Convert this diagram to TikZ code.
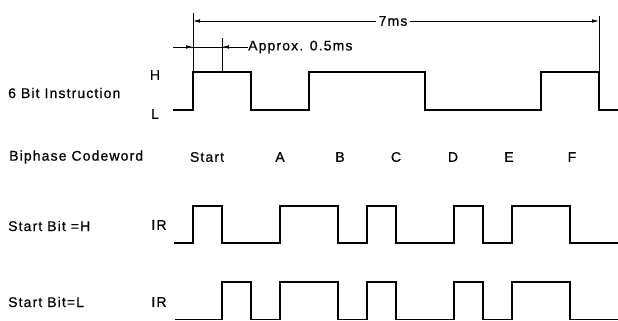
\documentclass[tikz,border=0pt]{standalone}
\usepackage{fontspec}
\setmainfont[LetterSpace=8,FakeBold=0.6]{Liberation Sans}
\usetikzlibrary{arrows.meta}
\begin{document}
\begin{tikzpicture}[x=1pt,y=-1pt,
  wave/.style={line width=1.7pt, line join=miter, line cap=butt},
  dim/.style={line width=0.7pt},
  lbl/.style={font=\fontsize{14}{16}\selectfont, inner sep=0pt},
  tipe/.style={-{Latex[length=7pt,width=3.6pt]}}]
\useasboundingbox (0,0) rectangle (618,321);

% left labels
\node[lbl, anchor=west] (instr) at (8,93) {6 Bit Instruction};
\node[lbl] (hl) at (155,75) {H};
\node[lbl] (ll) at (155,114) {L};
\node[lbl, anchor=west] (bip) at (9,157) {Biphase Codeword};
\node[lbl, anchor=west] (sbh) at (8,226) {Start Bit =H};
\node[lbl, anchor=west] (sbl) at (8,302) {Start Bit=L};
\node[lbl] (ir1) at (159,225) {IR};
\node[lbl] (ir2) at (159,302) {IR};

% bit labels
\node[lbl] (bs) at (207,157) {Start};
\node[lbl] (ba) at (280,157) {A};
\node[lbl] (bb) at (340,157) {B};
\node[lbl] (bc) at (396,157) {C};
\node[lbl] (bd) at (453,157) {D};
\node[lbl] (be) at (509,157) {E};
\node[lbl] (bf) at (572,157) {F};

% top waveform
\draw[wave] (173,110) -- (193,110) -- (193,72) -- (251,72) -- (251,110) -- (309,110)
  -- (309,72) -- (425,72) -- (425,110) -- (541,110) -- (541,72) -- (599,72)
  -- (599,110) -- (618,110);

% start bit = H
\draw[wave] (174,243) -- (193,243) -- (193,206) -- (222,206) -- (222,243) -- (280,243)
  -- (280,206) -- (338,206) -- (338,243) -- (367,243) -- (367,206) -- (396,206)
  -- (396,243) -- (454,243) -- (454,206) -- (483,206) -- (483,243) -- (512,243)
  -- (512,206) -- (570,206) -- (570,243) -- (618,243);

% start bit = L
\draw[wave] (175,319.5) -- (222,319.5) -- (222,282) -- (251,282) -- (251,319.5) -- (280,319.5)
  -- (280,282) -- (338,282) -- (338,319.5) -- (367,319.5) -- (367,282) -- (396,282)
  -- (396,319.5) -- (454,319.5) -- (454,282) -- (483,282) -- (483,319.5) -- (512,319.5)
  -- (512,282) -- (570,282) -- (570,319.5) -- (618,319.5);

% dimension extension lines
\coordinate (e1t) at (193,13);
\coordinate (e1b) at (193,72);
\coordinate (e2t) at (599,16);
\coordinate (e2b) at (599,72);
\coordinate (e3t) at (222,38);
\coordinate (e3b) at (222,72);
\draw[dim] (e1t) -- (e1b);
\draw[dim] (e2t) -- (e2b);
\draw[dim] (e3t) -- (e3b);

% 7ms
\coordinate (d7l) at (193,21);
\coordinate (d7r) at (599,21);
\draw[dim, {Latex[length=7pt,width=3.6pt]}-{Latex[length=7pt,width=3.6pt]}] (d7l) -- (d7r);
\node[lbl, fill=white, inner xsep=3pt, inner ysep=1pt] (t7) at (393,21) {7ms};

% approx 0.5ms
\coordinate (a0) at (173,47);
\coordinate (a1) at (193,47);
\coordinate (a2) at (222,47);
\coordinate (a3) at (236,47);
\node[lbl, anchor=west] (tap) at (248,47) {Approx. 0.5ms};
\draw[dim] (a0) -- (tap.west);
\draw[dim, tipe] (a0) -- (a1);
\draw[dim, tipe] (a3) -- (a2);
\end{tikzpicture}
\end{document}
